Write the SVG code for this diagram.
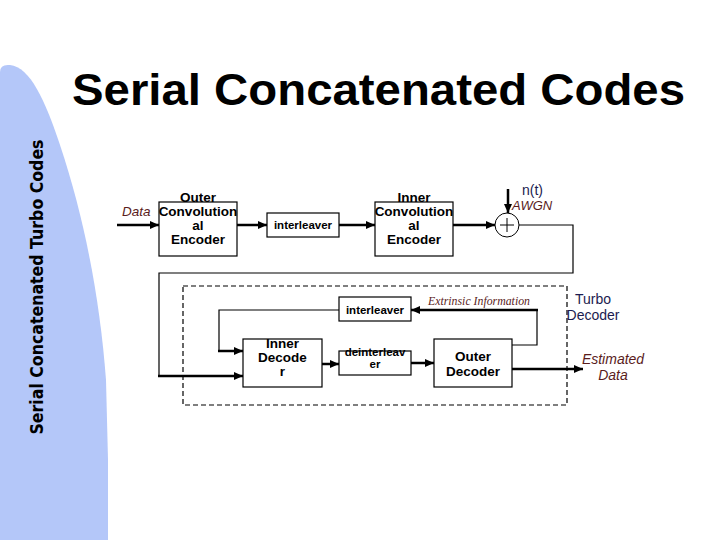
<svg xmlns="http://www.w3.org/2000/svg" width="720" height="540" viewBox="0 0 720 540">
<defs>
<style>
.box{fill:#fff;stroke:#000;stroke-width:1.2}
.bt{font-family:"Liberation Sans",Arial,sans-serif;font-weight:bold;font-size:13.5px;text-anchor:middle;fill:#000}
.st{font-family:"Liberation Sans",Arial,sans-serif;font-weight:bold;font-size:11.5px;text-anchor:middle;fill:#000}
.thick{fill:none;stroke:#000;stroke-width:2.5}
.thin{fill:none;stroke:#000;stroke-width:1.2}
.red{font-family:"Liberation Sans",Arial,sans-serif;font-style:italic;fill:#5a1c1c}
.blue{font-family:"Liberation Sans",Arial,sans-serif;fill:#1c1c50}
</style>
<marker id="ah" markerWidth="9" markerHeight="8" refX="9" refY="4" orient="auto" markerUnits="userSpaceOnUse">
<path d="M0,0 L9,4 L0,8 Z" fill="#000"/>
</marker>
</defs>
<rect width="720" height="540" fill="#fff"/>
<path id="sidebar" d="M0,540 L0,72 Q0,64 10,65 C30,67 45,100 60,145 C85,220 100,300 106,380 L108,460 L108,540 Z" fill="#b4c7f9"/>
<text x="43" y="287" transform="rotate(-90 43 287)" text-anchor="middle" font-family="'DejaVu Sans',Verdana,sans-serif" font-weight="bold" font-size="17" textLength="295" lengthAdjust="spacingAndGlyphs" fill="#000">Serial Concatenated Turbo Codes</text>
<text x="72" y="105" font-family="'Liberation Sans',Arial,sans-serif" font-weight="bold" font-size="44" textLength="613" lengthAdjust="spacingAndGlyphs" fill="#000">Serial Concatenated Codes</text>

<g id="connectors">
<path class="thick" d="M117,225 H159" marker-end="url(#ah)"/>
<path class="thick" d="M237,225 H267" marker-end="url(#ah)"/>
<path class="thick" d="M339,225 H375" marker-end="url(#ah)"/>
<path class="thick" d="M453,225 H495" marker-end="url(#ah)"/>
<path class="thick" d="M508,189 V213" marker-end="url(#ah)"/>
<path class="thin" d="M519,225 H573 V273 H159 V376"/>
<path class="thick" d="M158,376 H243" marker-end="url(#ah)"/>
<path class="thin" d="M339,310 H219 V351"/>
<path class="thick" d="M218,351 H243" marker-end="url(#ah)"/>
<path class="thick" d="M322,364 H339" marker-end="url(#ah)"/>
<path class="thick" d="M411,363 H434" marker-end="url(#ah)"/>
<path class="thin" d="M512,345 H537 V310"/>
<path class="thick" d="M538,310 H411" marker-end="url(#ah)"/>
<path class="thick" d="M512,369 H583" marker-end="url(#ah)"/>
</g>

<rect id="turbo-decoder-frame" x="183" y="286" width="384" height="119" fill="none" stroke="#000" stroke-width="1.2" stroke-dasharray="5,3"/>

<g id="outer-encoder">
<rect class="box" x="159" y="202" width="78" height="54"/>
<text class="bt" x="198" y="202">Outer</text>
<text class="bt" x="198" y="216">Convolution</text>
<text class="bt" x="198" y="230">al</text>
<text class="bt" x="198" y="244">Encoder</text>
</g>
<g id="interleaver-enc">
<rect class="box" x="267" y="213" width="72" height="24"/>
<text class="st" x="303" y="229">interleaver</text>
</g>
<g id="inner-encoder">
<rect class="box" x="375" y="202" width="78" height="54"/>
<text class="bt" x="414" y="202">Inner</text>
<text class="bt" x="414" y="216">Convolution</text>
<text class="bt" x="414" y="230">al</text>
<text class="bt" x="414" y="244">Encoder</text>
</g>
<g id="adder">
<circle cx="507" cy="225" r="12" fill="#fff" stroke="#000" stroke-width="1"/>
<path d="M500,225 H514 M507,218 V232" stroke="#000" stroke-width="1" fill="none"/>
</g>
<g id="interleaver-dec">
<rect class="box" x="339" y="297" width="72" height="24"/>
<text class="st" x="375" y="314">interleaver</text>
</g>
<g id="inner-decoder">
<rect class="box" x="243" y="339" width="79" height="48"/>
<text class="bt" x="282.5" y="348" font-size="14">Inner</text>
<text class="bt" x="282.5" y="362" font-size="14">Decode</text>
<text class="bt" x="282.5" y="376" font-size="14">r</text>
</g>
<g id="deinterleaver">
<rect class="box" x="339" y="351" width="72" height="24"/>
<text class="st" x="375" y="356">deinterleav</text>
<text class="st" x="375" y="368">er</text>
</g>
<g id="outer-decoder">
<rect class="box" x="434" y="339" width="78" height="48"/>
<text class="bt" x="473" y="361" font-size="14">Outer</text>
<text class="bt" x="473" y="376" font-size="14">Decoder</text>
</g>

<g id="labels">
<text class="red" x="122" y="216" font-size="13.5">Data</text>
<text class="blue" x="522" y="195" font-size="14">n(t)</text>
<text class="red" x="512" y="210" font-size="13">AWGN</text>
<text x="428" y="305" font-family="'Liberation Serif','Times New Roman',serif" font-style="italic" font-size="12" textLength="102" lengthAdjust="spacingAndGlyphs" fill="#5a1c1c">Extrinsic Information</text>
<text class="blue" x="593" y="304" font-size="14" text-anchor="middle">Turbo</text>
<text class="blue" x="593" y="320" font-size="14" text-anchor="middle">Decoder</text>
<text class="red" x="613" y="364" font-size="14" text-anchor="middle">Estimated</text>
<text class="red" x="613" y="380" font-size="14" text-anchor="middle">Data</text>
</g>
</svg>
